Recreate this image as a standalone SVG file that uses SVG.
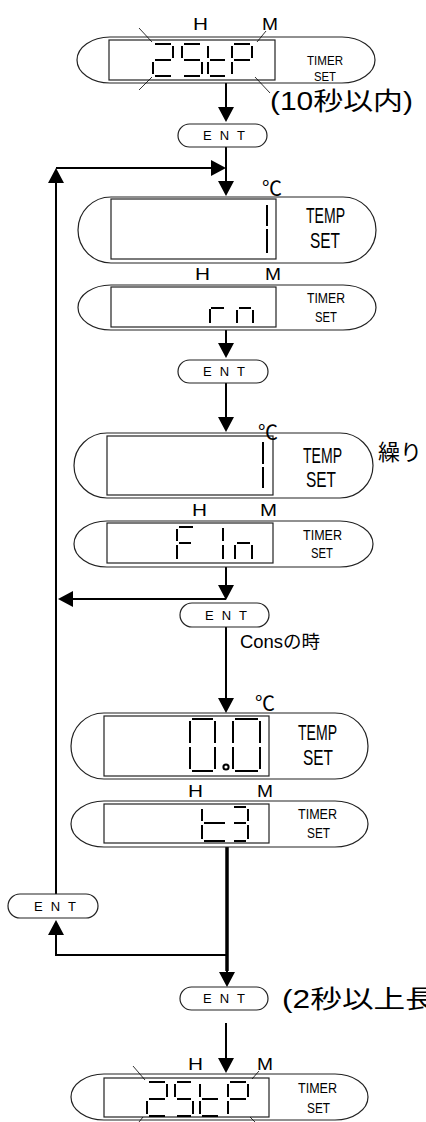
<svg xmlns="http://www.w3.org/2000/svg" width="426" height="1122" viewBox="0 0 426 1122">
<style>
.pill{fill:none;stroke:#222;stroke-width:1.2}
.lcd{fill:none;stroke:#222;stroke-width:1.2}
.seg{fill:none;stroke:#000;stroke-width:2}
.ray{stroke:#000;stroke-width:0.8}
.conn{fill:none;stroke:#000;stroke-width:2}
.thick{stroke-width:3.5}
.lbl{font-family:"Liberation Sans",Arial,sans-serif;fill:#000}
.big{font-size:22px}
.sm{font-size:15px}
.xs{font-size:13px}
.hm{font-size:17px}
.ent{font-family:"Liberation Sans",Arial,sans-serif;font-size:13px;fill:#000}
.jp{font-family:"Liberation Sans","Noto Sans CJK JP",sans-serif;fill:#000}
.deg{font-family:"Noto Sans CJK JP",sans-serif;font-size:20px;fill:#000}
</style>
<defs>
<marker id="ah" viewBox="0 0 15 16" refX="0" refY="8" markerWidth="15" markerHeight="16" markerUnits="userSpaceOnUse" orient="auto"><path d="M0,0 L15,8 L0,16 z" fill="#000"/></marker>
</defs>
<rect width="426" height="1122" fill="#fff"/>

<g id="connectors">
<path class="conn" d="M226,83 V107" marker-end="url(#ah)"/>
<path class="conn" d="M226,147 V181" marker-end="url(#ah)"/>
<path class="conn" d="M56,168 H211" marker-end="url(#ah)"/>
<path class="conn" d="M56,894 V183" marker-end="url(#ah)"/>
<path class="conn" d="M226,330 V343" marker-end="url(#ah)"/>
<path class="conn" d="M226,383 V417" marker-end="url(#ah)"/>
<path class="conn" d="M226,567 V585" marker-end="url(#ah)"/>
<path class="conn" d="M226,599 H73" marker-end="url(#ah)"/>
<path class="conn" d="M226,627 V698" marker-end="url(#ah)"/>
<path class="conn thick" d="M227,847 V971"/>
<path class="conn" d="M227,971 V972" marker-end="url(#ah)"/>
<path class="conn" d="M227,955 H56 V935" marker-end="url(#ah)"/>
<path class="conn" d="M226,1023 V1058" marker-end="url(#ah)"/>
</g>

<g id="disp-2stp-top">
<rect class="pill" x="77" y="37" width="298" height="46" rx="33" ry="23"/>
<rect class="lcd" x="109" y="40" width="166" height="40"/>
<path class="seg" d="M155,44H171 M173,46V58 M155,60H171 M153,62V74 M155,76H171
M184,44H200 M182,46V58 M184,60H200 M202,62V74 M184,76H200
M208,46V58 M208,62V74 M210,60H225 M210,76H225
M234,44H250 M252,46V58 M232,46V58 M234,60H250 M232,62V74"/>
<path class="ray" d="M139,28L152,42 M257,42L266,31 M152,77L139,90 M255,77L270,93"/>
<text class="lbl hm" x="193" y="30" textLength="15" lengthAdjust="spacingAndGlyphs">H</text>
<text class="lbl hm" x="262" y="30" textLength="16" lengthAdjust="spacingAndGlyphs">M</text>
<text class="lbl xs" x="307" y="65" textLength="36" lengthAdjust="spacingAndGlyphs">TIMER</text>
<text class="lbl xs" x="314" y="80.5" textLength="22" lengthAdjust="spacingAndGlyphs">SET</text>
</g>
<text class="jp" x="270" y="110" font-size="25" textLength="143" lengthAdjust="spacingAndGlyphs">(10秒以内)</text>

<g id="ent1">
<rect class="pill" x="178" y="124" width="89" height="23" rx="11.5"/>
<text class="ent" x="203" y="140" textLength="42" lengthAdjust="spacing">ENT</text>
</g>

<g id="temp1">
<rect class="pill" x="78" y="197" width="298" height="66" rx="33" ry="33"/>
<rect class="lcd" x="111" y="199" width="165" height="60"/>
<path class="seg" d="M267,205V226 M267,229V253"/>
<text class="deg" x="262" y="196">℃</text>
<text class="lbl big" x="306" y="223" textLength="39" lengthAdjust="spacingAndGlyphs">TEMP</text>
<text class="lbl big" x="310" y="248" textLength="30" lengthAdjust="spacingAndGlyphs">SET</text>
</g>

<g id="timer-rn">
<text class="lbl hm" x="195" y="280" textLength="15" lengthAdjust="spacingAndGlyphs">H</text>
<text class="lbl hm" x="265" y="280" textLength="16" lengthAdjust="spacingAndGlyphs">M</text>
<rect class="pill" x="78" y="285" width="298" height="45" rx="33" ry="22.5"/>
<rect class="lcd" x="111" y="287" width="165" height="40"/>
<path class="seg" d="M210,309V323 M211,308H224 M239,308H251 M237,310V323 M253,310V323"/>
<text class="lbl sm" x="307" y="303" textLength="38" lengthAdjust="spacingAndGlyphs">TIMER</text>
<text class="lbl sm" x="315" y="322" textLength="22" lengthAdjust="spacingAndGlyphs">SET</text>
</g>

<g id="ent2">
<rect class="pill" x="178" y="360" width="90" height="23" rx="11.5"/>
<text class="ent" x="203" y="376" textLength="42" lengthAdjust="spacing">ENT</text>
</g>

<text class="jp" x="378" y="460" font-size="22">繰り</text>

<g id="temp2">
<rect class="pill" x="74" y="433" width="299" height="65" rx="33" ry="32.5"/>
<rect class="lcd" x="107" y="436" width="166" height="59"/>
<path class="seg" d="M263,442V464 M263,467V488"/>
<text class="deg" x="258" y="440">℃</text>
<text class="lbl big" x="303" y="463" textLength="39" lengthAdjust="spacingAndGlyphs">TEMP</text>
<text class="lbl big" x="306" y="487" textLength="30" lengthAdjust="spacingAndGlyphs">SET</text>
</g>

<g id="timer-fin">
<text class="lbl hm" x="192" y="516" textLength="15" lengthAdjust="spacingAndGlyphs">H</text>
<text class="lbl hm" x="260" y="516" textLength="17" lengthAdjust="spacingAndGlyphs">M</text>
<rect class="pill" x="74" y="521" width="299" height="46" rx="33" ry="23"/>
<rect class="lcd" x="107" y="523" width="166" height="40"/>
<path class="seg" d="M179,527H193 M177,529V541 M177,545V559 M179,543H191 M223,528V541 M223,545V559 M237,543H250 M235,545V559 M252,545V559"/>
<text class="lbl sm" x="303" y="540" textLength="39" lengthAdjust="spacingAndGlyphs">TIMER</text>
<text class="lbl sm" x="311" y="558" textLength="22" lengthAdjust="spacingAndGlyphs">SET</text>
</g>

<g id="ent3">
<rect class="pill" x="180" y="603" width="89" height="24" rx="12"/>
<text class="ent" x="205" y="620" textLength="42" lengthAdjust="spacing">ENT</text>
</g>
<text class="jp" x="240" y="648" font-size="18" textLength="80" lengthAdjust="spacingAndGlyphs">Consの時</text>

<g id="temp3">
<rect class="pill" x="71" y="713" width="297" height="66" rx="33" ry="33"/>
<rect class="lcd" x="104" y="716" width="165" height="60"/>
<path class="seg" d="M192,719H213 M215,721V743 M215,747V769 M192,771H213 M190,747V769 M190,721V743
M235,719H258 M260,721V743 M260,747V769 M235,771H258 M233,747V769 M233,721V743"/>
<circle cx="226" cy="767" r="2.6" fill="#fff" stroke="#000" stroke-width="2"/>
<text class="deg" x="255" y="711">℃</text>
<text class="lbl big" x="298" y="740" textLength="39" lengthAdjust="spacingAndGlyphs">TEMP</text>
<text class="lbl big" x="303" y="765" textLength="30" lengthAdjust="spacingAndGlyphs">SET</text>
</g>

<g id="timer-t3">
<text class="lbl hm" x="188" y="797" textLength="15" lengthAdjust="spacingAndGlyphs">H</text>
<text class="lbl hm" x="257" y="797" textLength="16" lengthAdjust="spacingAndGlyphs">M</text>
<rect class="pill" x="71" y="801" width="297" height="46" rx="33" ry="23"/>
<rect class="lcd" x="104" y="804" width="165" height="39"/>
<path class="seg" d="M202,809V821 M202,825V839 M204,823H225 M204,841H225
M234,807H246 M248,809V821 M234,823H246 M248,825V839 M234,841H246"/>
<text class="lbl sm" x="298" y="819" textLength="39" lengthAdjust="spacingAndGlyphs">TIMER</text>
<text class="lbl sm" x="307" y="838" textLength="23" lengthAdjust="spacingAndGlyphs">SET</text>
</g>

<g id="ent-left">
<rect class="pill" x="8" y="894" width="90" height="24" rx="12"/>
<text class="ent" x="34" y="911" textLength="42" lengthAdjust="spacing">ENT</text>
</g>

<g id="ent4">
<rect class="pill" x="180" y="987" width="88" height="23" rx="11.5"/>
<text class="ent" x="203" y="1003" textLength="42" lengthAdjust="spacing">ENT</text>
</g>
<text class="jp" x="282" y="1008" font-size="25" textLength="155" lengthAdjust="spacingAndGlyphs">(2秒以上長</text>

<g id="disp-2stp-bottom">
<text class="lbl hm" x="188" y="1070" textLength="15" lengthAdjust="spacingAndGlyphs">H</text>
<text class="lbl hm" x="257" y="1070" textLength="16" lengthAdjust="spacingAndGlyphs">M</text>
<rect class="pill" x="71" y="1074" width="297" height="46" rx="33" ry="23"/>
<rect class="lcd" x="104" y="1078" width="165" height="39"/>
<path class="seg" d="M149,1082H165 M167,1084V1097 M149,1099H165 M147,1101V1114 M149,1116H165
M177,1082H191 M175,1084V1097 M177,1099H191 M193,1101V1114 M177,1116H191
M200,1084V1097 M200,1101V1114 M202,1099H218 M202,1116H218
M230,1082H246 M248,1084V1097 M228,1084V1097 M230,1099H246 M228,1101V1114"/>
<path class="ray" d="M133,1066L145,1080 M252,1079L259,1071 M143,1117L139,1122 M250,1117L255,1122"/>
<text class="lbl sm" x="298" y="1093" textLength="39" lengthAdjust="spacingAndGlyphs">TIMER</text>
<text class="lbl sm" x="307" y="1113" textLength="23" lengthAdjust="spacingAndGlyphs">SET</text>
</g>
</svg>
